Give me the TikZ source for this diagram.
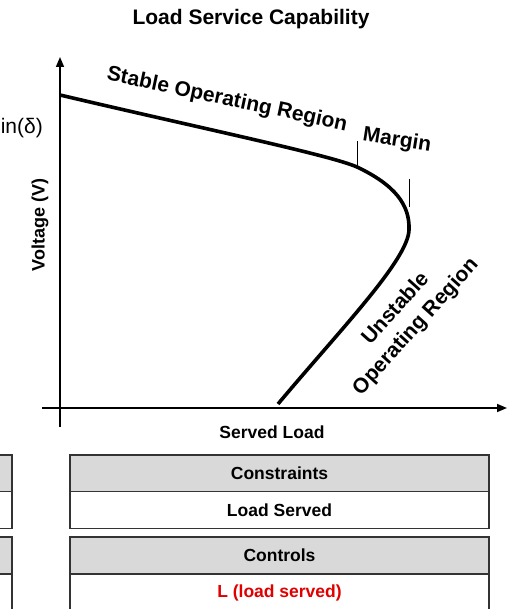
\documentclass[tikz,border=0pt]{standalone}
\usepackage{fontspec}
\setmainfont{Liberation Sans}
\usetikzlibrary{arrows.meta}
\definecolor{hdrgray}{HTML}{D9D9D9}
\definecolor{ctrlred}{HTML}{E00000}
\tikzstyle{hdr} = [rectangle, draw=black!80, fill=hdrgray, line width=1.2pt, minimum width=419pt, minimum height=37pt, inner sep=0pt, font=\fontsize{17.5}{20}\selectfont\bfseries]
\tikzstyle{cell} = [hdr, fill=white]
\tikzstyle{stub} = [hdr, minimum width=112pt]
\tikzstyle{lbl} = [inner sep=0pt, font=\fontsize{21}{24}\selectfont\bfseries]
\tikzset{axis/.style = {
    line width=1.6pt,
    -{Triangle[length=10pt, width=8pt]},
  },
  pv/.style = {line width=3.6pt},
  tickline/.style = {line width=0.8pt}
}

\begin{document}
\begin{tikzpicture}[x=1pt, y=-1pt]
            \useasboundingbox (0,0) rectangle (526,609);
            % labels
            \node[lbl] (title) at (251,19) {Load Service Capability};
            \node[inner sep=0pt, anchor=east, font=\fontsize{21}{24}\selectfont] (sind) at (43,128) {in(δ)};
            \node[lbl, font=\fontsize{18}{20}\selectfont\bfseries, rotate=90] (ylab) at (40,225) {Voltage (V)};
            \node[lbl, font=\fontsize{17.5}{20}\selectfont\bfseries] (xlab) at (272,432) {Served Load};
            \node[lbl, rotate=-12] (stable) at (227,100) {Stable Operating Region};
            \node[lbl, rotate=-9] (margin) at (397,141) {Margin};
            \node[lbl, rotate=48, align=center, font=\fontsize{21}{27}\selectfont\bfseries] (unstable) at (406,318) {Unstable\\Operating Region};

            % points
            \coordinate (ybot) at (60,427);
            \coordinate (ytop) at (60,57);
            \coordinate (xleft) at (42,408);
            \coordinate (xright) at (507,408);
            \coordinate (p0) at (60,95);
            \coordinate (p1) at (357,167);
            \coordinate (p2) at (409,230);
            \coordinate (p3) at (278,404);
            \coordinate (m1) at (357,141);
            \coordinate (m2top) at (409,179);
            \coordinate (m2bot) at (409,207);

            %axes and curve
            \draw[axis] (ybot) -- (ytop);
            \draw[axis] (xleft) -- (xright);
            \draw[pv] (p0) .. controls (200,128) and (330,155) .. (p1)
                      .. controls (395,185) and (410,205) .. (p2)
                      .. controls (408,260) and (340,330) .. (p3);
            \draw[tickline] (m1) -- (p1);
            \draw[tickline] (m2top) -- (m2bot);

            %tables
            \node[stub] (lh1) at (-44,473.5) {};
            \node[stub, fill=white] (lc1) at (-44,510) {};
            \node[stub] (lh2) at (-44,555.5) {};
            \node[stub, fill=white] (lc2) at (-44,592.5) {};
            \node[hdr] (h1) at (279.5,473.5) {Constraints};
            \node[cell] (c1) at (279.5,510) {Load Served};
            \node[hdr] (h2) at (279.5,555.5) {Controls};
            \node[cell, text=ctrlred] (c2) at (279.5,592.5) {L (load served)};
          \end{tikzpicture}
\end{document}
